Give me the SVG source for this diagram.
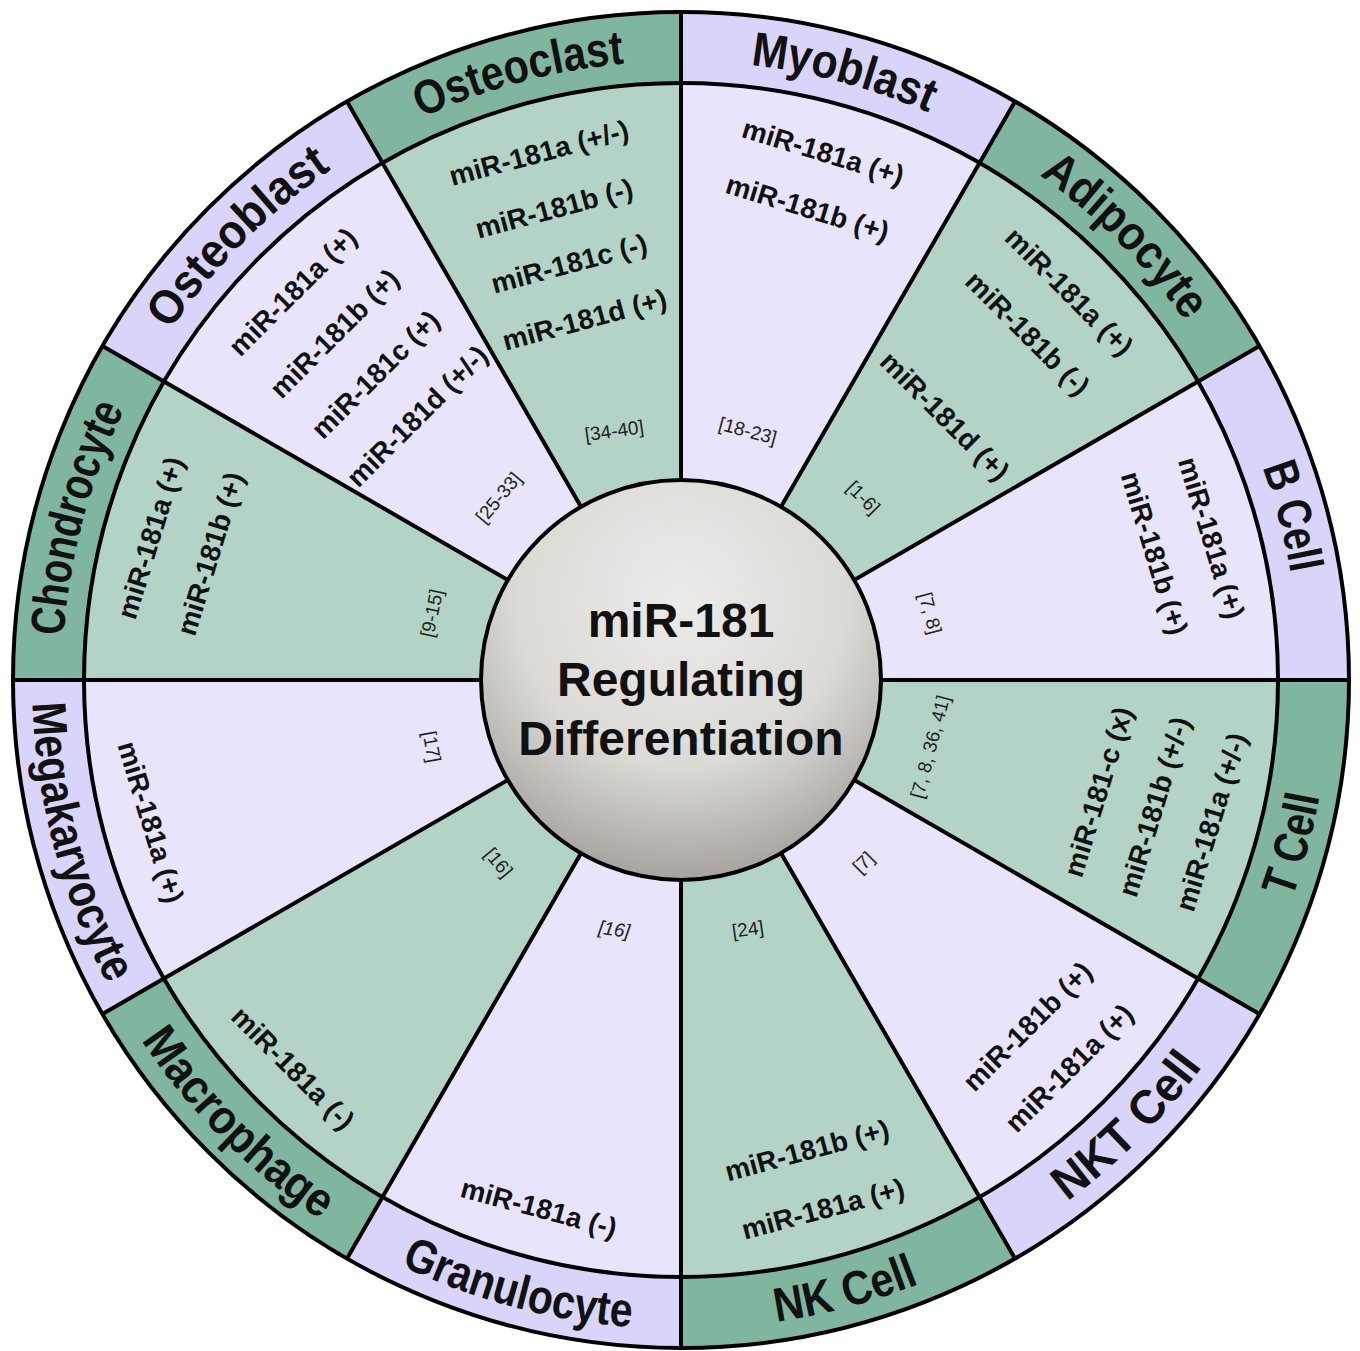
<svg xmlns="http://www.w3.org/2000/svg" width="1360" height="1351" viewBox="0 0 1360 1351">
<style>
.lab{font-family:'Liberation Sans',Arial,sans-serif;font-weight:bold;font-size:48px;fill:#111;text-anchor:middle}
.mir{font-family:'Liberation Sans',Arial,sans-serif;font-weight:bold;font-size:28px;fill:#111;text-anchor:middle;dominant-baseline:central}
.ref{font-family:'Liberation Sans Narrow','Liberation Sans',Arial,sans-serif;font-size:19px;fill:#222;text-anchor:middle;dominant-baseline:central}
.ctr{font-family:'Liberation Sans',Arial,sans-serif;font-weight:bold;font-size:48px;fill:#111;text-anchor:middle}
.lc{fill:#e7e4fc}.lt{fill:#d9d4fa}.gc{fill:#b3d3c7}.gt{fill:#80b6a0}
.div{stroke:#000;stroke-width:4;fill:none}
</style>
<defs>
<radialGradient id="cg" cx="0.5" cy="0.3" r="0.75" fx="0.5" fy="0.3">
<stop offset="0" stop-color="#ecebe9"/><stop offset="0.55" stop-color="#dcdad7"/><stop offset="1" stop-color="#9d9995"/>
</radialGradient>
<path id="pMyo" d="M371.5,143.93 A619,619 0 0 1 1217.07,370.5"/>
<path id="pAdi" d="M681,61 A619,619 0 0 1 1300,680"/>
<path id="pB" d="M990.5,143.93 A619,619 0 0 1 1217.07,989.5"/>
<path id="pOcl" d="M144.93,370.5 A619,619 0 0 1 990.5,143.93"/>
<path id="pObl" d="M62,680 A619,619 0 0 1 681,61"/>
<path id="pCho" d="M144.93,989.5 A619,619 0 0 1 371.5,143.93"/>
<path id="pT" d="M1005.5,1242.05 A649,649 0 0 0 1243.05,355.5"/>
<path id="pNKT" d="M681,1329 A649,649 0 0 0 1330,680"/>
<path id="pNK" d="M356.5,1242.05 A649,649 0 0 0 1243.05,1004.5"/>
<path id="pGra" d="M118.95,1004.5 A649,649 0 0 0 1005.5,1242.05"/>
<path id="pMac" d="M32,680 A649,649 0 0 0 681,1329"/>
<path id="pMeg" d="M118.95,355.5 A649,649 0 0 0 356.5,1242.05"/>
</defs>

<g id="myoblast">
<path class="lc" d="M681,680 L681,83 A597,597 0 0 1 979.5,162.98 Z"/>
<path class="lt" d="M681,83 L681,12 A668,668 0 0 1 1015,101.49 L979.5,162.98 A597,597 0 0 0 681,83 Z"/>
<text class="lab"><textPath href="#pMyo" startOffset="50%" textLength="185" lengthAdjust="spacingAndGlyphs">Myoblast</textPath></text>
<text class="mir" transform="translate(823.09,152) rotate(17)">miR-181a (+)</text>
<text class="mir" transform="translate(807.56,208) rotate(17)">miR-181b (+)</text>
<text class="ref" transform="translate(747.78,430.79) rotate(15)">[18-23]</text>
</g>

<g id="adipocyte">
<path class="gc" d="M681,680 L979.5,162.98 A597,597 0 0 1 1198.02,381.5 Z"/>
<path class="gt" d="M979.5,162.98 L1015,101.49 A668,668 0 0 1 1259.51,346 L1198.02,381.5 A597,597 0 0 0 979.5,162.98 Z"/>
<text class="lab"><textPath href="#pAdi" startOffset="50%" textLength="208" lengthAdjust="spacingAndGlyphs">Adipocyte</textPath></text>
<text class="mir" transform="translate(1069.2,291.8) rotate(45)">miR-181a (+)</text>
<text class="mir" transform="translate(1027.48,333.52) rotate(45)">miR-181b (-)</text>
<text class="mir" transform="translate(944.75,416.25) rotate(45)">miR-181d (+)</text>
<text class="ref" transform="translate(863.43,497.57) rotate(45)">[1-6]</text>
</g>

<g id="bcell">
<path class="lc" d="M681,680 L1198.02,381.5 A597,597 0 0 1 1278,680 Z"/>
<path class="lt" d="M1198.02,381.5 L1259.51,346 A668,668 0 0 1 1349,680 L1278,680 A597,597 0 0 0 1198.02,381.5 Z"/>
<text class="lab"><textPath href="#pB" startOffset="50%" textLength="110" lengthAdjust="spacingAndGlyphs">B Cell</textPath></text>
<text class="mir" transform="translate(1211.29,537.91) rotate(73)">miR-181a (+)</text>
<text class="mir" transform="translate(1154.3,553.18) rotate(73)">miR-181b (+)</text>
<text class="ref" transform="translate(930.21,613.22) rotate(75)">[7, 8]</text>
</g>

<g id="tcell">
<path class="gc" d="M681,680 L1278,680 A597,597 0 0 1 1198.02,978.5 Z"/>
<path class="gt" d="M1278,680 L1349,680 A668,668 0 0 1 1259.51,1014 L1198.02,978.5 A597,597 0 0 0 1278,680 Z"/>
<text class="lab"><textPath href="#pT" startOffset="50%" textLength="106" lengthAdjust="spacingAndGlyphs">T Cell</textPath></text>
<text class="mir" transform="translate(1211.29,822.09) rotate(-73)">miR-181a (+/-)</text>
<text class="mir" transform="translate(1154.3,806.82) rotate(-73)">miR-181b (+/-)</text>
<text class="mir" transform="translate(1098.28,791.81) rotate(-73)">miR-181-c (x)</text>
<text class="ref" transform="translate(930.21,746.78) rotate(-75)">[7, 8,  36, 41]</text>
</g>

<g id="nktcell">
<path class="lc" d="M681,680 L1198.02,978.5 A597,597 0 0 1 979.5,1197.02 Z"/>
<path class="lt" d="M1198.02,978.5 L1259.51,1014 A668,668 0 0 1 1015,1258.51 L979.5,1197.02 A597,597 0 0 0 1198.02,978.5 Z"/>
<text class="lab"><textPath href="#pNKT" startOffset="50%" textLength="192" lengthAdjust="spacingAndGlyphs">NKT Cell</textPath></text>
<text class="mir" transform="translate(1069.2,1068.2) rotate(-45)">miR-181a (+)</text>
<text class="mir" transform="translate(1027.48,1026.48) rotate(-45)">miR-181b (+)</text>
<text class="ref" transform="translate(863.43,862.43) rotate(-45)">[7]</text>
</g>

<g id="nkcell">
<path class="gc" d="M681,680 L979.5,1197.02 A597,597 0 0 1 681,1277 Z"/>
<path class="gt" d="M979.5,1197.02 L1015,1258.51 A668,668 0 0 1 681,1348 L681,1277 A597,597 0 0 0 979.5,1197.02 Z"/>
<text class="lab"><textPath href="#pNK" startOffset="50%" textLength="148" lengthAdjust="spacingAndGlyphs">NK Cell</textPath></text>
<text class="mir" transform="translate(823.09,1209) rotate(-15)">miR-181a (+)</text>
<text class="mir" transform="translate(807.04,1150.41) rotate(-15)">miR-181b (+)</text>
<text class="ref" transform="translate(747.78,929.21) rotate(-8)">[24]</text>
</g>

<g id="granulocyte">
<path class="lc" d="M681,680 L681,1277 A597,597 0 0 1 382.5,1197.02 Z"/>
<path class="lt" d="M681,1277 L681,1348 A668,668 0 0 1 347,1258.51 L382.5,1197.02 A597,597 0 0 0 681,1277 Z"/>
<text class="lab"><textPath href="#pGra" startOffset="50%" textLength="240" lengthAdjust="spacingAndGlyphs">Granulocyte</textPath></text>
<text class="mir" transform="translate(538.91,1208) rotate(15)">miR-181a (-)</text>
<text class="ref" font-style="italic" transform="translate(614.22,929.21) rotate(8)">[16]</text>
</g>

<g id="macrophage">
<path class="gc" d="M681,680 L382.5,1197.02 A597,597 0 0 1 163.98,978.5 Z"/>
<path class="gt" d="M382.5,1197.02 L347,1258.51 A668,668 0 0 1 102.49,1014 L163.98,978.5 A597,597 0 0 0 382.5,1197.02 Z"/>
<text class="lab"><textPath href="#pMac" startOffset="50%" textLength="255" lengthAdjust="spacingAndGlyphs">Macrophage</textPath></text>
<text class="mir" transform="translate(292.8,1068.2) rotate(45)">miR-181a (-)</text>
<text class="ref" transform="translate(498.57,862.43) rotate(50)">[16]</text>
</g>

<g id="megakaryocyte">
<path class="lc" d="M681,680 L163.98,978.5 A597,597 0 0 1 84,680 Z"/>
<path class="lt" d="M163.98,978.5 L102.49,1014 A668,668 0 0 1 13,680 L84,680 A597,597 0 0 0 163.98,978.5 Z"/>
<text class="lab"><textPath href="#pMeg" startOffset="50%" textLength="294" lengthAdjust="spacingAndGlyphs">Megakaryocyte</textPath></text>
<text class="mir" transform="translate(150.71,822.09) rotate(73)">miR-181a (+)</text>
<text class="ref" transform="translate(431.79,746.78) rotate(80)">[17]</text>
</g>

<g id="chondrocyte">
<path class="gc" d="M681,680 L84,680 A597,597 0 0 1 163.98,381.5 Z"/>
<path class="gt" d="M84,680 L13,680 A668,668 0 0 1 102.49,346 L163.98,381.5 A597,597 0 0 0 84,680 Z"/>
<text class="lab"><textPath href="#pCho" startOffset="50%" textLength="236" lengthAdjust="spacingAndGlyphs">Chondrocyte</textPath></text>
<text class="mir" transform="translate(150.71,537.91) rotate(-73)">miR-181a (+)</text>
<text class="mir" transform="translate(210.4,553.8) rotate(-73)">miR-181b (+)</text>
<text class="ref" transform="translate(431.79,613.22) rotate(-78)">[9-15]</text>
</g>

<g id="osteoblast">
<path class="lc" d="M681,680 L163.98,381.5 A597,597 0 0 1 382.5,162.98 Z"/>
<path class="lt" d="M163.98,381.5 L102.49,346 A668,668 0 0 1 347,101.49 L382.5,162.98 A597,597 0 0 0 163.98,381.5 Z"/>
<text class="lab"><textPath href="#pObl" startOffset="50%" textLength="229" lengthAdjust="spacingAndGlyphs">Osteoblast</textPath></text>
<text class="mir" transform="translate(292.8,291.8) rotate(-45)">miR-181a (+)</text>
<text class="mir" transform="translate(334.52,333.52) rotate(-45)">miR-181b (+)</text>
<text class="mir" transform="translate(375.53,374.53) rotate(-45)">miR-181c (+)</text>
<text class="mir" transform="translate(417.25,416.25) rotate(-45)">miR-181d (+/-)</text>
<text class="ref" transform="translate(498.57,497.57) rotate(-50)">[25-33]</text>
</g>

<g id="osteoclast">
<path class="gc" d="M681,680 L382.5,162.98 A597,597 0 0 1 681,83 Z"/>
<path class="gt" d="M382.5,162.98 L347,101.49 A668,668 0 0 1 681,12 L681,83 A597,597 0 0 0 382.5,162.98 Z"/>
<text class="lab"><textPath href="#pOcl" startOffset="50%" textLength="211" lengthAdjust="spacingAndGlyphs">Osteoclast</textPath></text>
<text class="mir" transform="translate(538.91,153) rotate(-15)">miR-181a (+/-)</text>
<text class="mir" transform="translate(554.18,208.7) rotate(-15)">miR-181b (-)</text>
<text class="mir" transform="translate(569.19,263.72) rotate(-15)">miR-181c (-)</text>
<text class="mir" transform="translate(584.46,319.71) rotate(-15)">miR-181d (+)</text>
<text class="ref" transform="translate(614.22,430.79) rotate(-8)">[34-40]</text>
</g>

<g id="dividers">
<circle class="div" cx="681" cy="680" r="597"/>
<circle class="div" cx="681" cy="680" r="668" stroke-width="5"/>
<line class="div" x1="681" y1="12" x2="681" y2="1348"/>
<line class="div" x1="1015" y1="101.49" x2="347" y2="1258.51"/>
<line class="div" x1="1259.51" y1="346" x2="102.49" y2="1014"/>
<line class="div" x1="1349" y1="680" x2="13" y2="680"/>
<line class="div" x1="1259.51" y1="1014" x2="102.49" y2="346"/>
<line class="div" x1="1015" y1="1258.51" x2="347" y2="101.49"/>
</g>

<g id="center">
<circle cx="681" cy="680" r="200" fill="url(#cg)" stroke="#000" stroke-width="4"/>
<text class="ctr" x="681" y="637">miR-181</text>
<text class="ctr" x="681" y="696">Regulating</text>
<text class="ctr" x="681" y="755">Differentiation</text>
</g>
</svg>
